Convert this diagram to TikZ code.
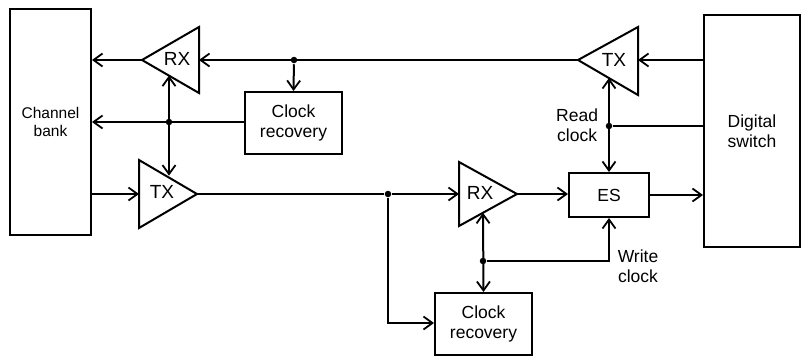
\documentclass[tikz,border=0pt]{standalone}
\usepackage{fontspec}
\setmainfont{Liberation Sans}
\usetikzlibrary{arrows.meta}
\begin{document}
\begin{tikzpicture}[x=1pt,y=-1pt,
  line width=2pt,
  box/.style={draw,line width=2pt,inner sep=0pt,align=center,font=\fontsize{17.5}{20}\selectfont},
  lbl/.style={inner sep=0pt,align=center,font=\fontsize{17.5}{20}\selectfont},
  amp/.style={inner sep=0pt,font=\fontsize{19}{20}\selectfont},
  arr/.style={-{Straight Barb[length=9pt,width=13pt,line width=1.8pt]}},
  dbl/.style={{Straight Barb[length=9pt,width=13pt,line width=1.8pt]}-{Straight Barb[length=9pt,width=13pt,line width=1.8pt]}},
  dot/.style={circle,fill,inner sep=0pt,minimum size=6.5pt}]
\useasboundingbox (0,0) rectangle (802,357);
% blocks
\node[box,minimum width=81pt,minimum height=226pt,font=\fontsize{15.5}{18}\selectfont] (cb) at (50.5,122) {Channel\\bank};
\node[box,minimum width=96pt,minimum height=232pt] (ds) at (752,131) {Digital\\switch};
\node[box,minimum width=97pt,minimum height=62pt] (cr1) at (293.5,123) {Clock\\recovery};
\node[box,minimum width=97pt,minimum height=62pt] (cr2) at (483.5,324) {Clock\\recovery};
\node[box,minimum width=80pt,minimum height=44pt] (es) at (609,195) {ES};
% triangles
\coordinate (rx1a) at (142,60); \coordinate (rx1t) at (199,27); \coordinate (rx1b) at (199,93);
\coordinate (tx1a) at (197,194); \coordinate (tx1t) at (139,160); \coordinate (tx1b) at (139,228);
\coordinate (rx2a) at (517,194); \coordinate (rx2t) at (459,162); \coordinate (rx2b) at (459,226);
\coordinate (tx2a) at (578,60); \coordinate (tx2t) at (638,27); \coordinate (tx2b) at (638,95);
\draw[line join=miter] (rx1a) -- (rx1t) -- (rx1b) -- cycle;
\draw[line join=miter] (tx1a) -- (tx1t) -- (tx1b) -- cycle;
\draw[line join=miter] (rx2a) -- (rx2t) -- (rx2b) -- cycle;
\draw[line join=miter] (tx2a) -- (tx2t) -- (tx2b) -- cycle;
\node[amp] (rx1l) at (177,59) {RX};
\node[amp] (tx1l) at (162,192) {TX};
\node[amp] (rx2l) at (480,193) {RX};
\node[amp] (tx2l) at (614,60) {TX};
\coordinate (rx1r) at (199,60);
\coordinate (tx1l0) at (139,194);
\coordinate (rx2l0) at (459,194);
\coordinate (tx2r) at (638,60);
% junctions
\node[dot] (j1) at (294,60) {};
\node[dot] (j2) at (169,122) {};
\node[dot] (j3) at (388,194) {};
\node[dot] (j4) at (609,126) {};
\node[dot] (j5) at (483,261) {};
\coordinate (rx1e) at (169,75.6);
\coordinate (tx1e) at (169,175.6);
\coordinate (tx2e) at (609,78);
\coordinate (rx2e) at (483,212.8);
\coordinate (c3) at (388,323);
\coordinate (c5) at (609,261);
% connectors
\draw[arr] (tx2a) -- (rx1r);
\draw[arr] (j1) -- (cr1.north);
\draw[arr] (rx1a) -- (rx1a -| cb.east);
\draw[arr] (cr1.west |- j2) -- (j2 -| cb.east);
\draw[dbl] (rx1e) -- (tx1e);
\draw[arr] (tx1l0 -| cb.east) -- (tx1l0);
\draw (tx1a) -- (j3);
\draw[arr] (j3) -- (rx2l0);
\draw[arr] (j3) -- (c3) -- (c3 -| cr2.west);
\draw[arr] (rx2a) -- (rx2a -| es.west);
\draw[arr] (es.east) -- (es.east -| ds.west);
\draw[arr] (tx2r -| ds.west) -- (tx2r);
\draw[dbl] (tx2e) -- (es.north);
\draw (j4) -- (j4 -| ds.west);
\draw[dbl] (rx2e) -- (cr2.north);
\draw[arr] (j5) -- (c5) -- (es.south);
% labels
\node[lbl,anchor=east] (rcl) at (599,125) {Read\\clock};
\node[lbl] (wcl) at (638,266) {Write\\clock};
\end{tikzpicture}
\end{document}
